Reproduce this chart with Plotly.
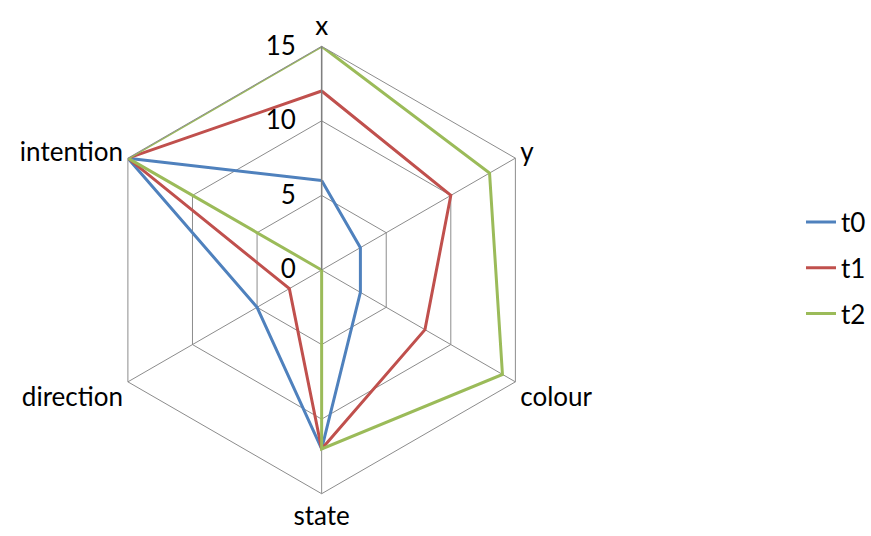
import plotly.graph_objects as go

categories = ["x", "y", "colour", "state", "direction", "intention"]
t0 = [6, 3, 3, 12, 5, 15]
t1 = [12, 10, 8, 12, 2.5, 15]
t2 = [15, 13, 14, 12, 0, 15]
series = [("t0", t0, "#4F81BD"), ("t1", t1, "#C0504D"), ("t2", t2, "#9BBB59")]
radial_ticks = [0, 5, 10, 15]

fig = go.Figure()
for name, vals, color in series:
    fig.add_trace(go.Scatterpolar(
        r=vals + vals[:1],
        theta=categories + categories[:1],
        mode="lines",
        name=name,
        legendgroup=name,
        line=dict(color=color, width=3),
    ))

W, H = 871, 536
cx, cy, R = 323.5, 270, 225
FS = 26
fig.update_layout(
    width=W, height=H,
    margin=dict(l=0, r=0, t=0, b=0),
    paper_bgcolor="white",
    plot_bgcolor="white",
    font=dict(family="Lato, Calibri, sans-serif", size=FS, color="black"),
    polar=dict(
        domain=dict(x=[(cx - R) / W, (cx + R) / W],
                    y=[(H - cy - R) / H, (H - cy + R) / H]),
        gridshape="linear",
        bgcolor="white",
        angularaxis=dict(
            rotation=90, direction="clockwise",
            showline=True, linecolor="#8C8C8C", linewidth=1,
            gridcolor="#8C8C8C", gridwidth=1,
            ticks="", tickfont=dict(size=FS),
        ),
        radialaxis=dict(
            range=[0, 15], tickvals=radial_ticks,
            angle=90, tickangle=90, side="counterclockwise",
            showline=True, linecolor="#7F7F7F", linewidth=1.5,
            gridcolor="#8C8C8C", gridwidth=1,
            ticks="outside", ticklen=16, tickcolor="rgba(0,0,0,0)",
            tickfont=dict(size=FS),
        ),
    ),
    legend=dict(x=0.925, y=0.5, xanchor="left", yanchor="middle",
                font=dict(size=FS), tracegroupgap=9, itemwidth=30),
)

fig.write_html("out.html")
